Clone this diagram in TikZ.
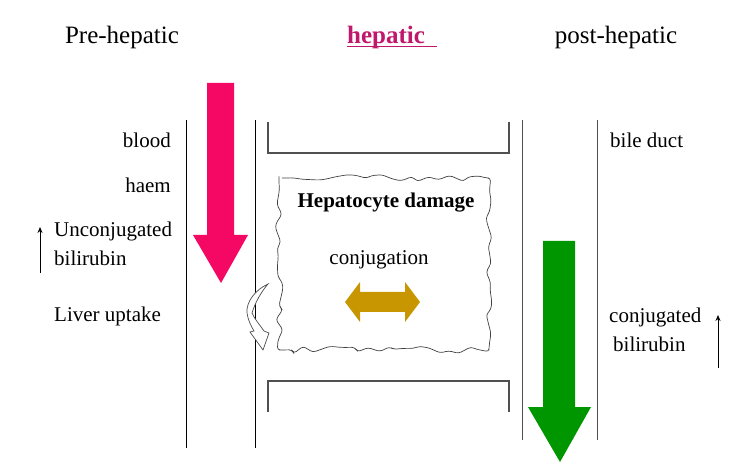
\documentclass[tikz,border=0pt]{standalone}
\usepackage{fontspec}
\setmainfont{Liberation Serif}
\usetikzlibrary{decorations.pathmorphing,arrows.meta}
\definecolor{hotpink}{RGB}{245,8,100}
\definecolor{dgreen}{RGB}{0,150,0}
\definecolor{gold}{RGB}{200,150,0}
\definecolor{magtitle}{RGB}{192,24,106}
\definecolor{lgray}{RGB}{80,80,80}
\begin{document}
\begin{tikzpicture}[x=1pt,y=-1pt,
  title/.style={font=\fontsize{25}{28}\selectfont, inner sep=0pt},
  body/.style={font=\fontsize{21}{24}\selectfont, inner sep=0pt},
  wall/.style={draw=black, line width=1pt},
  bracket/.style={draw=lgray, line width=1.4pt},
  smallarrow/.style={draw=black, line width=0.8pt, -{Stealth[length=6pt,width=5pt]}}]
\useasboundingbox (0,0) rectangle (750,470);
% titles
\node[title, anchor=base] (pre) at (122,44) {Pre-hepatic};
\node[title, anchor=base west, text=magtitle, font=\fontsize{25}{28}\selectfont\bfseries] (hep) at (347,44) {hepatic};
\draw[magtitle, line width=1pt] (hep.base west) ++(0,3) -- ++(90,0);
\node[title, anchor=base] (post) at (616,44) {post-hepatic};
% walls
\draw[wall] (186,120) -- (186,448);
\draw[wall] (255,120) -- (255,448);
\draw[wall, draw=lgray] (522,120) -- (522,440);
\draw[wall, draw=lgray] (597,120) -- (597,440);
% brackets
\draw[bracket] (268,122) -- (268,153) -- (509,153) -- (509,122);
\draw[bracket] (268,412) -- (268,381) -- (509,381) -- (509,412);
% pink arrow
\fill[hotpink] (207,83) -- (234,83) -- (234,235) -- (248,235) -- (221,283) -- (193,235) -- (207,235) -- cycle;
% green arrow
\fill[dgreen] (543,241) -- (575,241) -- (575,407) -- (591,407) -- (560,462) -- (528,407) -- (543,407) -- cycle;
% cloud
\pgfmathsetseed{11}
\draw[black!75, line width=0.7pt, decorate, decoration={random steps, segment length=9pt, amplitude=4pt}, rounded corners=3pt]
  (279,178) -- (489,178) -- (489,350) -- (279,350) -- cycle;
% gold double arrow
\fill[gold] (345,302) -- (360,282) -- (360,292) -- (405,292) -- (405,282) -- (420,302) -- (405,322) -- (405,312) -- (360,312) -- (360,322) -- cycle;
% curved arrow
\draw[black!70, line width=0.7pt, fill=white]
  (268,284) .. controls (255,290) and (246,302) .. (247,313)
  .. controls (248,320) and (251,326) .. (254,331) -- (250,332) -- (263,350) -- (269,333) -- (264,331)
  .. controls (259,324) and (254,318) .. (252,313)
  .. controls (255,303) and (261,292) .. (268,284) -- cycle;
% left labels
\node[body, anchor=base east] (blood) at (171,148) {blood};
\node[body, anchor=base east] (haem) at (171,193) {haem};
\node[body, anchor=base west] (unc) at (54,237) {Unconjugated};
\node[body, anchor=base west] (bil1) at (54,266) {bilirubin};
\node[body, anchor=base west] (liver) at (54,322) {Liver uptake};
\coordinate (la1) at (40,273);
\coordinate (la2) at (40,227);
\draw[smallarrow] (la1) -- (la2);
% right labels
\node[body, anchor=base west] (bile) at (610,148) {bile duct};
\node[body, anchor=base west] (conj) at (609,323) {conjugated};
\node[body, anchor=base west] (bil2) at (613,352) {bilirubin};
\coordinate (ra1) at (718,368);
\coordinate (ra2) at (718,315);
\draw[smallarrow] (ra1) -- (ra2);
% center labels
\node[body, anchor=base, font=\fontsize{21}{24}\selectfont\bfseries] (dmg) at (386,208) {Hepatocyte damage};
\node[body, anchor=base] (cjg) at (379,265) {conjugation};
\end{tikzpicture}
\end{document}
